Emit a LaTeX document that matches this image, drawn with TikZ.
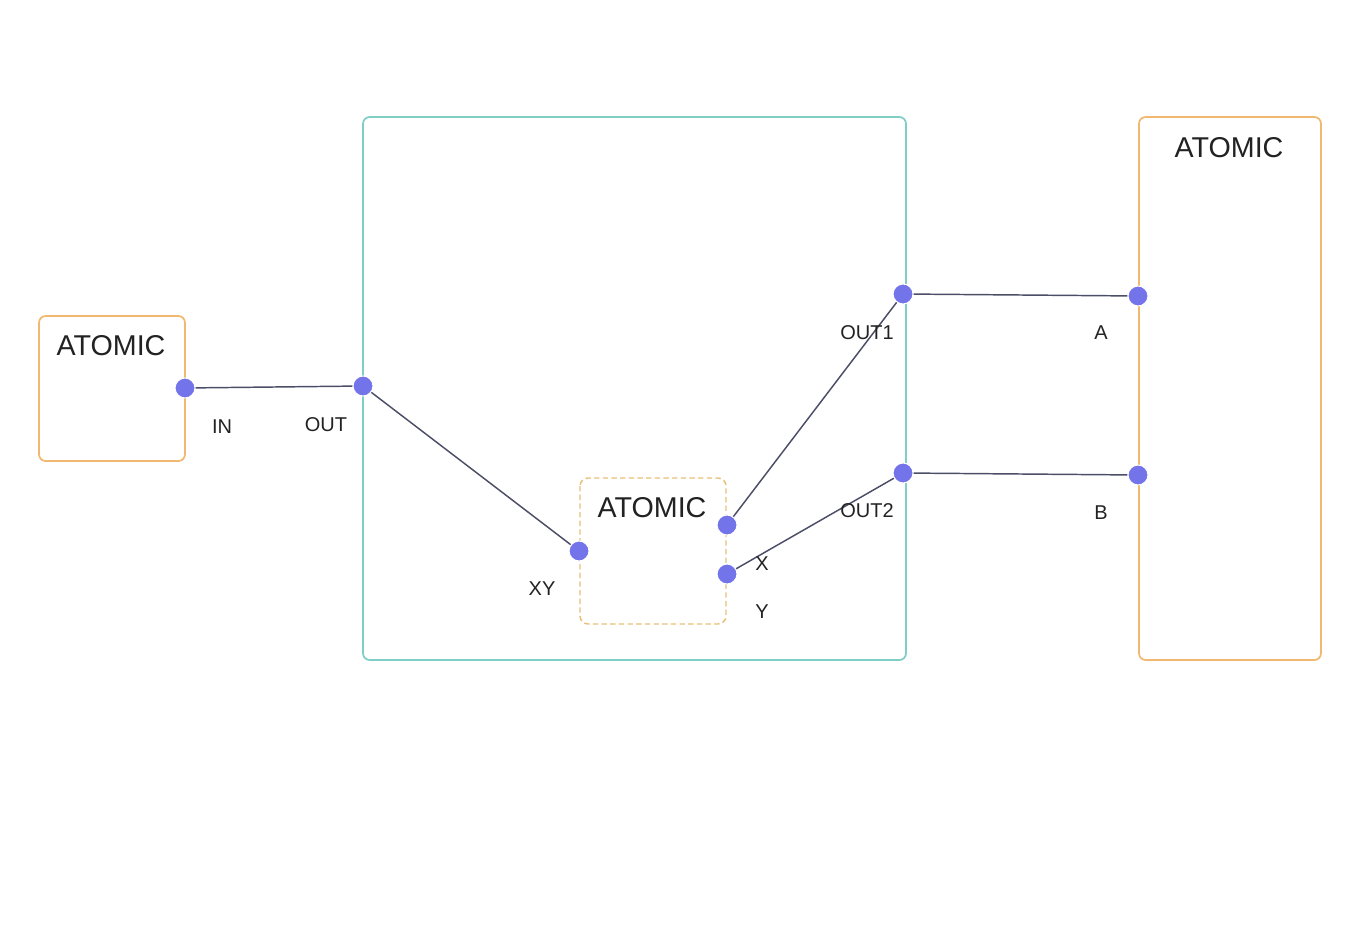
\documentclass[tikz,border=0pt]{standalone}
\usepackage{fontspec}
\setmainfont{Liberation Sans}
\definecolor{orangeb}{HTML}{F0B870}
\definecolor{tealb}{HTML}{80CFC6}
\definecolor{dashb}{HTML}{E8BE78}
\definecolor{portc}{HTML}{7373EA}
\definecolor{linec}{HTML}{4B4E66}
\definecolor{txt}{HTML}{222222}
\begin{document}
\begin{tikzpicture}[x=0.75pt,y=-0.75pt,
  atombox/.style={draw=orangeb,line width=1.3pt,rounded corners=5pt},
  coupled/.style={draw=tealb,line width=1.3pt,rounded corners=5pt},
  innerbox/.style={draw=dashb,line width=1.1pt,dashed,dash pattern=on 4pt off 2.5pt,rounded corners=6pt},
  port/.style={circle,fill=portc,draw=white,line width=0.8pt,minimum size=15pt,inner sep=0pt},
  wire/.style={draw=linec,line width=1.1pt},
  title/.style={font=\fontsize{21.5}{24}\selectfont,text=txt,inner sep=0pt},
  plabel/.style={font=\fontsize{15}{17}\selectfont,text=txt,inner sep=0pt}]
\useasboundingbox (0,0) rectangle (1360,952);
% boxes
\path[atombox] (39,316) rectangle (185,461);
\path[coupled] (363,117) rectangle (906,660);
\path[atombox] (1139,117) rectangle (1321,660);
\path[innerbox] (580,478) rectangle (726,624);
% titles
\node[title] (t1) at (111,346) {ATOMIC};
\node[title] (t2) at (652,508) {ATOMIC};
\node[title] (t3) at (1229,148) {ATOMIC};
% ports
\node[port] (in) at (185,388) {};
\node[port] (out) at (363,386) {};
\node[port] (xy) at (579,551) {};
\node[port] (x) at (727,525) {};
\node[port] (y) at (727,574) {};
\node[port] (out1) at (903,294) {};
\node[port] (out2) at (903,473) {};
\node[port] (a) at (1138,296) {};
\node[port] (b) at (1138,475) {};
% wires
\draw[wire] (in) -- (out);
\draw[wire] (out) -- (xy);
\draw[wire] (x) -- (out1);
\draw[wire] (y) -- (out2);
\draw[wire] (out1) -- (a);
\draw[wire] (out2) -- (b);
% labels
\node[plabel] (lin) at (222,427) {IN};
\node[plabel] (lout) at (326,425) {OUT};
\node[plabel] (lxy) at (542,589) {XY};
\node[plabel] (lx) at (762,564) {X};
\node[plabel] (ly) at (762,612) {Y};
\node[plabel] (lo1) at (867,333) {OUT1};
\node[plabel] (lo2) at (867,511) {OUT2};
\node[plabel] (la) at (1101,333) {A};
\node[plabel] (lb) at (1101,513) {B};
\end{tikzpicture}
\end{document}
